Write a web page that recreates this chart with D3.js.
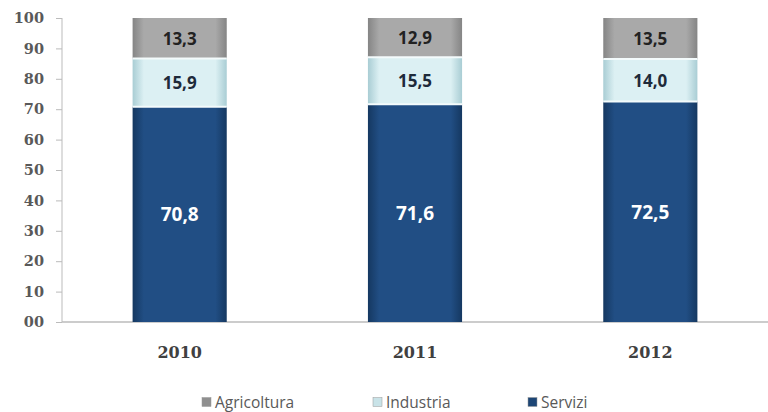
<!DOCTYPE html>
<html><head><meta charset="utf-8">
<script src="https://cdn.jsdelivr.net/npm/d3@7"></script>
<style>body{margin:0;background:#fff}svg{display:block}</style>
</head><body>
<svg id="c" width="768" height="412"></svg>
<script>
const years = ["2010","2011","2012"];
const servizi = [70.8, 71.6, 72.5];
const industria = [15.9, 15.5, 14.0];
const agricoltura = [13.3, 12.9, 13.5];
const yTicks = [0,10,20,30,40,50,60,70,80,90,100];
const seriesNames = ["Agricoltura","Industria","Servizi"];

const svg = d3.select("#c");
const x = d3.scaleBand().domain(years).range([62,768]).paddingInner(0.6).paddingOuter(0.3);
const y = d3.scaleLinear().domain([0,100]).range([322,18]);
const fmt = v => v.toFixed(1).replace(".", ",");

const defs = svg.append("defs");
function grad(id, edge, mid) {
  const g = defs.append("linearGradient").attr("id", id).attr("x1","0").attr("x2","1").attr("y1","0").attr("y2","0");
  g.append("stop").attr("offset","0").attr("stop-color",edge);
  g.append("stop").attr("offset","0.12").attr("stop-color",mid);
  g.append("stop").attr("offset","0.88").attr("stop-color",mid);
  g.append("stop").attr("offset","1").attr("stop-color",edge);
}
grad("gS","#153861","#214e84");
grad("gI","#a9cdd4","#dcf0f3");
grad("gA","#858585","#a9a9a9");

// axis
const ax = svg.append("g").attr("transform","translate(62,0)")
  .call(d3.axisLeft(y).tickValues(yTicks).tickSize(6).tickFormat(d => d===0 ? "00" : d));
ax.select(".domain").attr("stroke","#bbbbbb").attr("d","M-0,18V322");
ax.selectAll(".tick line").attr("stroke","#bbbbbb");
ax.selectAll(".tick text").attr("x",-18).attr("fill","#595959")
  .style("font-family","'DejaVu Serif', serif").style("font-weight","700").style("font-size","14.5px");

// baseline
svg.append("line").attr("x1",62).attr("x2",768).attr("y1",y(0)).attr("y2",y(0))
  .attr("stroke","#bbbbbb").attr("stroke-width",1.5);

const rows = years.map((yr,i) => ({year:yr, Servizi:servizi[i], Industria:industria[i], Agricoltura:agricoltura[i]}));
const stack = d3.stack().keys(["Servizi","Industria","Agricoltura"])(rows);
const fills = {Servizi:"url(#gS)", Industria:"url(#gI)", Agricoltura:"url(#gA)"};
const txtCol = {Servizi:"#ffffff", Industria:"#1e2a3a", Agricoltura:"#222222"};

stack.forEach(layer => {
  const g = svg.append("g");
  g.selectAll("rect").data(layer).join("rect")
    .attr("x", d => x(d.data.year)).attr("width", x.bandwidth())
    .attr("y", d => y(d[1])).attr("height", d => y(d[0]) - y(d[1]))
    .attr("fill", fills[layer.key]);
  g.selectAll("text").data(layer).join("text")
    .attr("x", d => x(d.data.year) + x.bandwidth()/2)
    .attr("y", d => (y(d[0]) + y(d[1]))/2)
    .attr("text-anchor","middle").attr("dominant-baseline","central")
    .attr("fill", txtCol[layer.key])
    .style("font-family","'Open Sans', sans-serif").style("font-weight","700")
    .style("font-size", layer.key==="Servizi" ? "19px" : "17px")
    .text(d => fmt(d[1]-d[0]));
});
// separators between segments
stack.slice(0,2).forEach(layer => {
  svg.append("g").selectAll("line").data(layer).join("line")
    .attr("x1", d => x(d.data.year)).attr("x2", d => x(d.data.year)+x.bandwidth())
    .attr("y1", d => y(d[1])).attr("y2", d => y(d[1]))
    .attr("stroke","#f4fbfc").attr("stroke-width",2);
});

// x labels
svg.append("g").selectAll("text").data(years).join("text")
  .attr("x", d => x(d) + x.bandwidth()/2).attr("y", 352)
  .attr("text-anchor","middle").attr("dominant-baseline","central")
  .attr("fill","#404040").style("font-family","'DejaVu Serif', serif")
  .style("font-weight","700").style("font-size","16px").text(d => d);

// legend
const legX = [202, 373, 528];
const legCol = {Agricoltura:"#8f8f8f", Industria:"#c9e3e8", Servizi:"#1d4675"};
const lg = svg.append("g").selectAll("g").data(seriesNames).join("g")
  .attr("transform",(d,i)=>`translate(${legX[i]},402)`);
lg.append("rect").attr("x",0).attr("y",-4.5).attr("width",9).attr("height",9)
  .attr("fill", d => legCol[d]).attr("stroke","#999").attr("stroke-width",0.5);
lg.append("text").attr("x",13).attr("y",0).attr("dominant-baseline","central")
  .attr("fill","#595959").style("font-family","'Open Sans', sans-serif")
  .style("font-size","15.5px").text(d => d);
</script>
</body></html>
